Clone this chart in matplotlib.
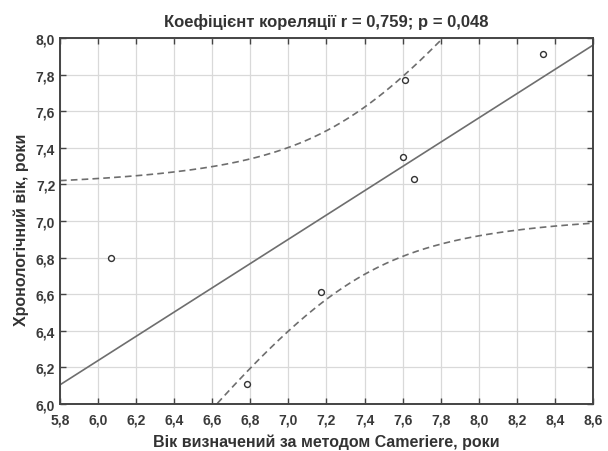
import numpy as np
import matplotlib
matplotlib.use("Agg")
from matplotlib import pyplot as plt
from matplotlib.ticker import FuncFormatter, MultipleLocator

# Cameriere age vs chronological age
cameriere_age = [6.07, 6.78, 7.17, 7.60, 7.61, 7.66, 8.34]
chrono_age = [6.80, 6.11, 6.61, 7.35, 7.77, 7.23, 7.91]

title = "Коефіцієнт кореляції r = 0,759; p = 0,048"
x_label = "Вік визначений за методом Cameriere, роки"
y_label = "Хронологічний вік, роки"

plt.rcParams['font.family'] = ['Liberation Sans Narrow', 'Liberation Sans', 'DejaVu Sans']

x = np.array(cameriere_age)
y = np.array(chrono_age)
n = len(x)

# Linear fit and 95% confidence band for the mean
slope, intercept = np.polyfit(x, y, 1)
x_fit = np.linspace(5.8, 8.6, 300)
y_fit = intercept + slope * x_fit
resid = y - (intercept + slope * x)
s = np.sqrt(np.sum(resid ** 2) / (n - 2))
sxx = np.sum((x - x.mean()) ** 2)
t_crit = 2.5706  # t(0.975, df=5)
band = t_crit * s * np.sqrt(1.0 / n + (x_fit - x.mean()) ** 2 / sxx)

fig = plt.figure(figsize=(6.08, 4.52), dpi=100)
ax = fig.add_axes([0.0987, 0.104, 0.8766, 0.8097])

line_color = "#6e6e6e"
ax.plot(x_fit, y_fit, color=line_color, lw=1.2)
ax.plot(x_fit, y_fit + band, color=line_color, lw=1.2, ls=(0, (4, 2.5)))
ax.plot(x_fit, y_fit - band, color=line_color, lw=1.2, ls=(0, (4, 2.5)))
ax.scatter(x, y, s=18, facecolors="white", edgecolors="#333333", linewidths=1.0, zorder=3)

ax.set_xlim(5.8, 8.6)
ax.set_ylim(6.0, 8.0)
ax.xaxis.set_major_locator(MultipleLocator(0.2))
ax.yaxis.set_major_locator(MultipleLocator(0.2))
comma = FuncFormatter(lambda v, pos: "{:.1f}".format(v).replace(".", ","))
ax.xaxis.set_major_formatter(comma)
ax.yaxis.set_major_formatter(comma)
ax.grid(True, color="#d9d9d9", lw=0.9)
ax.set_axisbelow(True)
ax.tick_params(direction="in", top=True, right=True, length=4, width=1, color="#444444",
               labelsize=10, labelcolor="#3a3a3a")
ax.tick_params(axis="x", pad=6)
for lbl in ax.get_xticklabels() + ax.get_yticklabels():
    lbl.set_fontweight("bold")
for sp in ax.spines.values():
    sp.set_color("#444444")
    sp.set_linewidth(1.4)

ax.set_title(title, fontsize=12, fontweight="bold", color="#333333", pad=9)
ax.set_xlabel(x_label, fontsize=11.5, fontweight="bold", color="#333333", labelpad=5)
ax.set_ylabel(y_label, fontsize=11.5, fontweight="bold", color="#333333", labelpad=8)
ax.yaxis.set_label_coords(-0.058, 0.48)

fig.savefig("out.png", dpi=100)
